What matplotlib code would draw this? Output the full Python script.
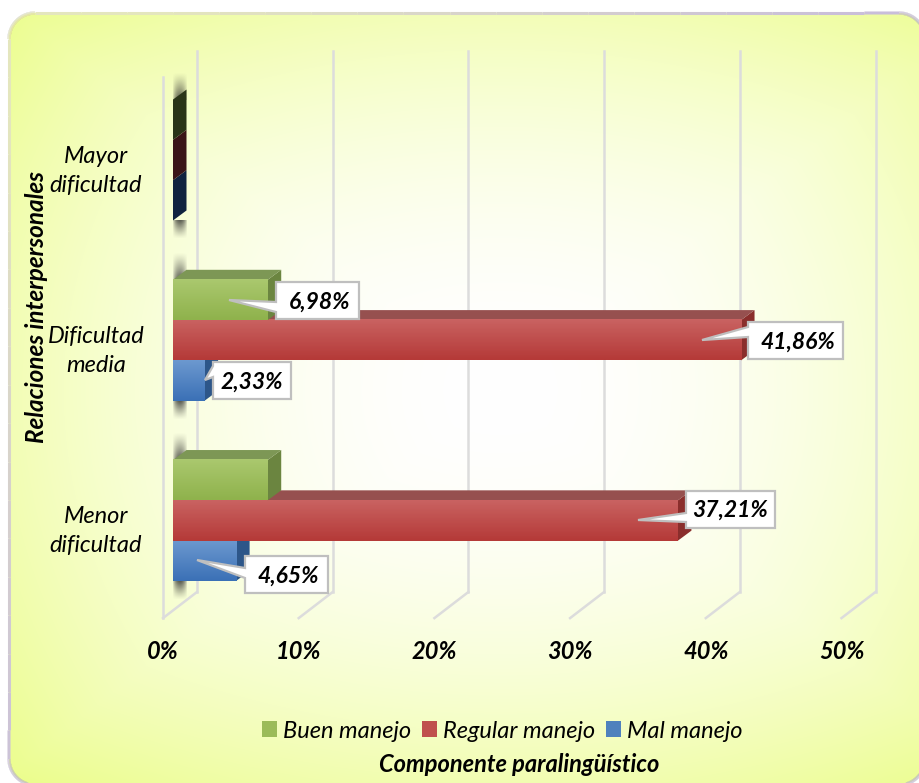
import numpy as np
import matplotlib
matplotlib.use('Agg')
import matplotlib.pyplot as plt
import matplotlib.transforms as mtransforms
from matplotlib.collections import LineCollection
from matplotlib.colors import LinearSegmentedColormap, to_rgb
from matplotlib.patches import Polygon, Patch

W, H = 919, 783

categories = ['Menor\ndificultad', 'Dificultad\nmedia', 'Mayor\ndificultad']
buen = [6.98, 6.98, 0]
regular = [37.21, 41.86, 0]
mal = [4.65, 2.33, 0]
x_ticks = [0, 10, 20, 30, 40, 50]
x_tick_labels = ['0%', '10%', '20%', '30%', '40%', '50%']

plt.rcParams['font.family'] = ['Lato', 'DejaVu Sans']

fig = plt.figure(figsize=(W / 100, H / 100), dpi=100, facecolor='white')
# pixeles de la imagen, con y hacia abajo
PX = mtransforms.Affine2D().scale(1, -1).translate(0, H)

# fondo con degradado
bg = fig.add_axes((0, 0, 1, 1), zorder=0)
bg.set_xlim(0, W)
bg.set_ylim(H, 0)
bg.axis('off')
xx, yy = np.meshgrid(np.arange(W), np.arange(H))
u = np.abs(xx - 500) / 500
v = np.abs(yy - 390) / 390
t = np.clip(0.35 * np.maximum(u, v) + 0.65 * np.sqrt((u**2 + v**2) / 2), 0, 1) ** 2
c0, c1 = np.array(to_rgb('#FFFFFF')), np.array(to_rgb('#EBFD8A'))
grad = c0 + (c1 - c0) * t[..., None]
im = bg.imshow(grad, extent=(0, W, H, 0), aspect='auto', zorder=1)

# contorno redondeado del panel
left, right, top_px, bot_px, rad = 9, 925, 13, 785, 26
corners = [(left + rad, top_px + rad, 180), (right - rad, top_px + rad, 270),
           (right - rad, bot_px - rad, 0), (left + rad, bot_px - rad, 90)]
outline = []
for cx, cy, a0 in corners:
    ang = np.radians(np.linspace(a0, a0 + 90, 40))
    outline.append(np.column_stack([cx + rad * np.cos(ang), cy + rad * np.sin(ang)]))
outline = np.vstack(outline + [outline[0][:1]])
panel = Polygon(outline, closed=True, fc='none', ec='none', transform=bg.transData)
bg.add_patch(panel)
im.set_clip_path(panel)

# borde: claro arriba a la izquierda, lila en el resto
seg_t = np.linspace(0, len(outline) - 1, 3000)
ox = np.interp(seg_t, np.arange(len(outline)), outline[:, 0])
oy = np.interp(seg_t, np.arange(len(outline)), outline[:, 1])
pts = np.column_stack([ox, oy])
segs = np.stack([pts[:-1], pts[1:]], axis=1)
mix = np.clip((pts[:-1, 0] + pts[:-1, 1] - 150) / 700, 0, 1)[:, None]
cols = np.array(to_rgb('#E4E6BE')) * (1 - mix) + np.array(to_rgb('#C9BEDA')) * mix
bg.add_collection(LineCollection(segs, colors=cols, linewidths=2.2, zorder=3))

# ejes: plano frontal de las barras
ax = fig.add_axes((173 / W, (H - 610.6) / H, 678.5 / W, 540.7 / H), zorder=1)
ax.patch.set_alpha(0)
ax.set_xlim(0, 50)
ax.set_ylim(-0.5, 2.5)
for s in ax.spines.values():
    s.set_visible(False)

back = ax.transData + mtransforms.Affine2D().translate(24, 18.6)
front = ax.transData + mtransforms.Affine2D().translate(-10, -7.5)
grid_c = '#DCDCDC'
for xt in x_ticks:
    ax.plot([xt, xt], [-0.5, 2.5], color=grid_c, lw=1.8, transform=back, clip_on=False, zorder=1)
    p0 = front.transform((xt, -0.5))
    p1 = back.transform((xt, -0.5))
    ax.plot([p0[0], p1[0]], [p0[1], p1[1]], color=grid_c, lw=1.8, transform=None, clip_on=False, zorder=1)
p0, p1 = front.transform([(0, -0.5), (0, 2.5)])
ax.plot([p0[0], p1[0]], [p0[1], p1[1]], color=grid_c, lw=1.8, transform=None, clip_on=False, zorder=1)

BAR_H = 0.2236
DX, DY = 13.5, 10
ys = np.arange(len(categories))

series = [
    ('Mal manejo', mal, -BAR_H, '#3B71B6', '#6C98CF', '#5C7EAD', '#2D5689', '#10233F', '#4F81BD'),
    ('Regular manejo', regular, 0, '#B53A38', '#C96261', '#96504F', '#8A2E2C', '#3A1518', '#C0504D'),
    ('Buen manejo', buen, BAR_H, '#8FB24C', '#AAC86E', '#7D9755', '#6B8540', '#2A3418', '#9BBB59'),
]

z = 3
handles = {}
for name, vals, off, c_bot, c_top, c_roof, c_side, c_zero, c_leg in series:
    bars = ax.barh(ys + off, vals, height=BAR_H, color=c_leg, zorder=z + 0.5)
    handles[name] = Patch(facecolor=c_leg, label=name)
    cmap = LinearSegmentedColormap.from_list(name, [c_top, c_bot])
    for b, val, yc in zip(bars, vals, ys + off):
        y0, y1 = yc - BAR_H / 2, yc + BAR_H / 2
        a = ax.transData.transform((val, y0))
        b_ = ax.transData.transform((val, y1))
        s = ax.transData.transform((0, y1))
        side = Polygon([a, b_, b_ + (DX, DY), a + (DX, DY)], closed=True, transform=None,
                       fc=c_side if val > 0 else c_zero, ec='none', zorder=z)
        ax.add_patch(side)
        if val > 0:
            roof = Polygon([s, b_, b_ + (DX, DY), s + (DX, DY)], closed=True, transform=None,
                           fc=c_roof, ec='none', zorder=z)
            ax.add_patch(roof)
            ax.imshow(np.linspace(0, 1, 32)[:, None], extent=(0, val, y0, y1), origin='upper',
                      aspect='auto', cmap=cmap, zorder=z + 0.6)
    z += 1

# sombras difusas arriba y abajo de cada grupo
prof_v = np.linspace(0, 1, 24) ** 1.2
prof_h = np.sin(np.linspace(0.15, np.pi - 0.15, 14)) ** 0.7
fade = np.zeros((24, 14, 4))
fade[..., :3] = 0.12
fade[..., 3] = 0.72 * prof_v[:, None] * prof_h[None, :]
w = 14 * 50 / 678.5
for yc in ys:
    top = yc + 1.5 * BAR_H
    bot = yc - 1.5 * BAR_H
    ax.imshow(fade, extent=(0, w, top, top + 28 / 180.25), origin='upper', aspect='auto',
              interpolation='bilinear', zorder=2)
    ax.imshow(fade[::-1], extent=(0, w, bot - 19 / 180.25, bot), origin='upper', aspect='auto',
              interpolation='bilinear', zorder=2)
ax.set_xlim(0, 50)
ax.set_ylim(-0.5, 2.5)

# ejes y rotulos
ax.set_xticks(x_ticks, x_tick_labels)
ax.tick_params(axis='x', length=0, pad=21, labelsize=17)
for lab in ax.get_xticklabels():
    lab.set_fontweight('bold')
    lab.set_fontstyle('italic')
    lab.set_transform(lab.get_transform() + mtransforms.Affine2D().translate(-10, 0))
ax.set_yticks(ys, categories)
ax.tick_params(axis='y', length=0, pad=0, labelsize=17)
for lab in ax.get_yticklabels():
    lab.set_fontstyle('italic')
    lab.set_ha('center')
    lab.set_linespacing(1.45)
    lab.set_transform(lab.get_transform() + mtransforms.Affine2D().translate(-77, -5))

fig.text(37, 307, 'Relaciones interpersonales', transform=PX, rotation=90, ha='center', va='center',
         fontsize=17.5, fontweight='bold', fontstyle='italic', zorder=10)
fig.text(519, 764, 'Componente paralingüístico', transform=PX, ha='center', va='center',
         fontsize=17, fontweight='bold', fontstyle='italic', zorder=10)

# etiquetas tipo globo: caja x0 x1 y0 y1, punta, base y0 y1, centro del texto
callouts = [
    (buen, 1, (276, 359, 282, 319), (229, 300), (302, 312), (320, 302)),
    (mal, 1, (213, 291, 362, 399), (205, 380), (366, 377), (252, 382)),
    (regular, 1, (748, 843, 322, 359), (702, 340), (327, 337), (798, 342)),
    (regular, 0, (686, 775, 491, 528), (638, 520), (513, 522), (730, 510)),
    (mal, 0, (245, 328, 556, 593), (197, 560), (568, 578), (288, 576)),
]
for vals, i, (x0, x1, y0, y1), tip, (b0, b1), (tx, ty) in callouts:
    outline_pts = [(x0, y0), (x1, y0), (x1, y1), (x0, y1), (x0, b1), tip, (x0, b0)]
    fig.add_artist(Polygon(outline_pts, closed=True, transform=PX, fc='white', ec='#BFBFBF', lw=1.6, zorder=8))
    fig.text(tx, ty, f'{vals[i]:.2f}%'.replace('.', ','), transform=PX, ha='center', va='center',
             fontsize=16.5, fontweight='bold', fontstyle='italic', zorder=9)

leg = fig.legend(handles=[handles['Buen manejo'], handles['Regular manejo'], handles['Mal manejo']],
                 loc='center', bbox_to_anchor=(502 / W, (H - 731) / H), ncol=3, frameon=False,
                 prop={'style': 'italic', 'size': 17}, handlelength=0.635, handleheight=0.635,
                 handletextpad=0.25, columnspacing=0.47, borderpad=0)

fig.savefig('out.png', dpi=100)
